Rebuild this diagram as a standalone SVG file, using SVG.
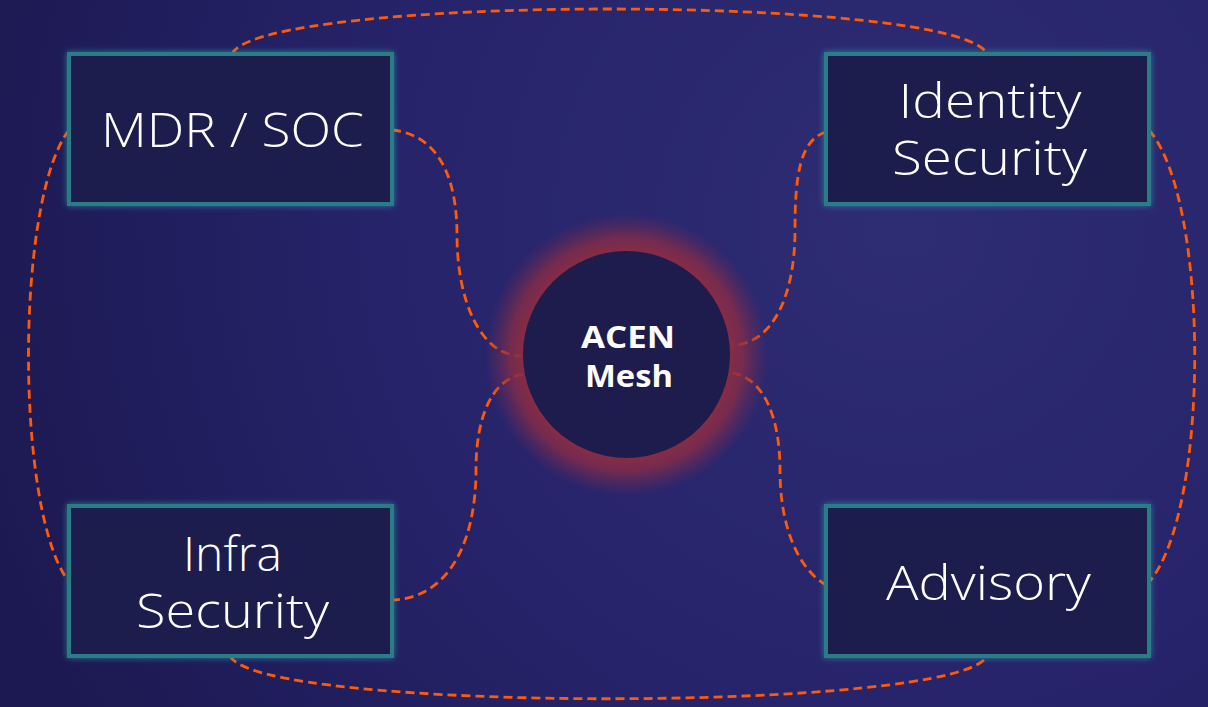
<svg xmlns="http://www.w3.org/2000/svg" width="1208" height="707" viewBox="0 0 1208 707">
  <defs>
    <radialGradient id="bg" cx="900" cy="220" r="950" gradientUnits="userSpaceOnUse">
      <stop offset="0" stop-color="#2e2c73"/>
      <stop offset="0.55" stop-color="#26236a"/>
      <stop offset="1" stop-color="#1c1952"/>
    </radialGradient>
    <radialGradient id="halo" cx="626.5" cy="354.5" r="142" gradientUnits="userSpaceOnUse">
      <stop offset="0.70" stop-color="#8c2c43" stop-opacity="1"/>
      <stop offset="0.82" stop-color="#862c47" stop-opacity="0.8"/>
      <stop offset="1" stop-color="#6b2a55" stop-opacity="0"/>
    </radialGradient>
    <filter id="glow" x="-10%" y="-10%" width="120%" height="120%">
      <feDropShadow dx="0" dy="0" stdDeviation="3" flood-color="#2aa3a6" flood-opacity="0.7"/>
    </filter>
    <style>
      .box { fill: #1e1c4e; stroke: #2a7c86; stroke-width: 4; filter: url(#glow); }
      .lbl { font-family: "Open Sans", "Liberation Sans", sans-serif; font-weight: 300; font-size: 48px; fill: #ffffff; text-anchor: middle; }
      .hub { font-family: "Open Sans", "Liberation Sans", sans-serif; font-weight: 700; font-size: 31px; fill: #ffffff; text-anchor: middle; }
      .link { fill: none; stroke: #ff5a0a; stroke-width: 2.8; stroke-dasharray: 9 5; }
    </style>
  </defs>

  <rect x="0" y="0" width="1208" height="707" fill="url(#bg)"/>

  <g id="connectors">
    <path class="link" d="M232,54 C260,-6 960,-6 987,54"/>
    <path class="link" d="M230,656 C258,713 960,713 987,656"/>
    <path class="link" d="M69,130 C15,200 15,512 69,582"/>
    <path class="link" d="M1149,130 C1210,200 1210,512 1149,582"/>
    <path class="link" d="M392,130 C440,135 457,180 457,235 C457,300 480,356 522,356"/>
    <path class="link" d="M523,374 C490,380 476,420 476,470 C476,540 450,598 392,600"/>
    <path class="link" d="M826,132 C800,140 795,175 795,230 C795,300 770,345 732,345"/>
    <path class="link" d="M732,373 C765,378 780,420 780,470 C780,530 800,570 826,585"/>
  </g>

  <g id="node-acen">
    <circle cx="626.5" cy="354.5" r="142" fill="url(#halo)"/>
    <circle cx="626.5" cy="354.5" r="103.5" fill="#1d1c4c"/>
    <text class="hub" x="628" y="348" textLength="94" lengthAdjust="spacingAndGlyphs">ACEN</text>
    <text class="hub" x="629" y="387" textLength="88" lengthAdjust="spacingAndGlyphs">Mesh</text>
  </g>

  <g id="node-mdr">
    <rect class="box" x="69" y="54" width="323" height="150"/>
    <text class="lbl" x="232.5" y="147" textLength="263" lengthAdjust="spacingAndGlyphs">MDR / SOC</text>
  </g>

  <g id="node-identity">
    <rect class="box" x="826" y="54" width="323" height="150"/>
    <text class="lbl" x="990" y="118" textLength="183" lengthAdjust="spacingAndGlyphs">Identity</text>
    <text class="lbl" x="989.5" y="175" textLength="195" lengthAdjust="spacingAndGlyphs">Security</text>
  </g>

  <g id="node-infra">
    <rect class="box" x="69" y="506" width="323" height="150"/>
    <text class="lbl" x="232.5" y="571">Infra</text>
    <text class="lbl" x="232.5" y="628" textLength="193" lengthAdjust="spacingAndGlyphs">Security</text>
  </g>

  <g id="node-advisory">
    <rect class="box" x="826" y="506" width="323" height="150"/>
    <text class="lbl" x="988.5" y="600" textLength="205" lengthAdjust="spacingAndGlyphs">Advisory</text>
  </g>
</svg>
